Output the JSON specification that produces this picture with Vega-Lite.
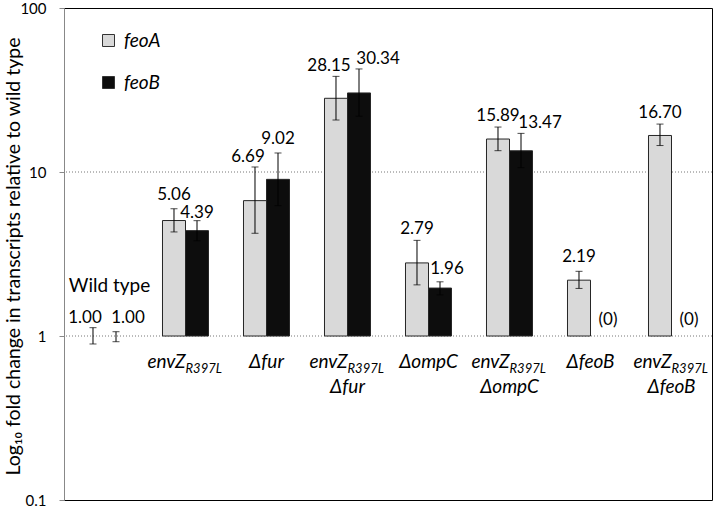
{
  "$schema": "https://vega.github.io/schema/vega-lite/v6.json",
  "width": 648,
  "height": 492,
  "autosize": "none",
  "padding": {"left": 64, "top": 8, "right": 2, "bottom": 7},
  "background": "white",
  "config": {
    "view": {"stroke": "#000", "strokeWidth": 1},
    "font": "Lato",
    "text": {"font": "Lato", "color": "#000"},
    "axisY": {
      "grid": false, "domainColor": "#888", "tickColor": "#888", "tickSize": 5,
      "labelFontSize": 15, "labelColor": "#000", "labelFont": "Lato", "labelPadding": 13,
      "titleFont": "Lato", "titleFontSize": 19.5, "titleFontWeight": "normal", "titleColor": "#000",
      "titleX": -41, "titleY": 248, "titleAngle": -90, "titleAlign": "center", "titleBaseline": "bottom"
    }
  },
  "datasets": {
    "bars": [
      {"group": "Wild type", "series": "feoA", "value": 1.0, "lo": 0.894, "hi": 1.124, "label": "1.00"},
      {"group": "Wild type", "series": "feoB", "value": 1.0, "lo": 0.923, "hi": 1.062, "label": "1.00"},
      {"group": "envZ R397L", "series": "feoA", "value": 5.06, "lo": 4.31, "hi": 5.97, "label": "5.06"},
      {"group": "envZ R397L", "series": "feoB", "value": 4.39, "lo": 3.81, "hi": 5.05, "label": "4.39"},
      {"group": "Δfur", "series": "feoA", "value": 6.69, "lo": 4.23, "hi": 10.73, "label": "6.69"},
      {"group": "Δfur", "series": "feoB", "value": 9.02, "lo": 6.23, "hi": 13.06, "label": "9.02"},
      {"group": "envZ R397L Δfur", "series": "feoA", "value": 28.15, "lo": 20.75, "hi": 38.3, "label": "28.15"},
      {"group": "envZ R397L Δfur", "series": "feoB", "value": 30.34, "lo": 21.9, "hi": 42.5, "label": "30.34"},
      {"group": "ΔompC", "series": "feoA", "value": 2.79, "lo": 2.05, "hi": 3.83, "label": "2.79"},
      {"group": "ΔompC", "series": "feoB", "value": 1.96, "lo": 1.78, "hi": 2.14, "label": "1.96"},
      {"group": "envZ R397L ΔompC", "series": "feoA", "value": 15.89, "lo": 13.49, "hi": 18.8, "label": "15.89"},
      {"group": "envZ R397L ΔompC", "series": "feoB", "value": 13.47, "lo": 10.63, "hi": 17.2, "label": "13.47"},
      {"group": "ΔfeoB", "series": "feoA", "value": 2.19, "lo": 1.95, "hi": 2.48, "label": "2.19"},
      {"group": "envZ R397L ΔfeoB", "series": "feoA", "value": 16.7, "lo": 14.5, "hi": 19.6, "label": "16.70"}
    ],
    "zeros": [
      {"group": "ΔfeoB", "series": "feoB", "label": "(0)"},
      {"group": "envZ R397L ΔfeoB", "series": "feoB", "label": "(0)"}
    ],
    "groups": [
      {"group": "Wild type", "line1": "", "sub": "", "line2": ""},
      {"group": "envZ R397L", "line1": "envZ", "sub": "R397L", "line2": ""},
      {"group": "Δfur", "line1": "Δfur", "sub": "", "line2": ""},
      {"group": "envZ R397L Δfur", "line1": "envZ", "sub": "R397L", "line2": "Δfur"},
      {"group": "ΔompC", "line1": "ΔompC", "sub": "", "line2": ""},
      {"group": "envZ R397L ΔompC", "line1": "envZ", "sub": "R397L", "line2": "ΔompC"},
      {"group": "ΔfeoB", "line1": "ΔfeoB", "sub": "", "line2": ""},
      {"group": "envZ R397L ΔfeoB", "line1": "envZ", "sub": "R397L", "line2": "ΔfeoB"}
    ],
    "grid": [{"g": 1}, {"g": 10}]
  },
  "layer": [
    {
      "data": {"name": "grid"},
      "mark": {"type": "rule", "color": "#777", "strokeDash": [1, 2], "strokeWidth": 1},
      "encoding": {
        "y": {"field": "g", "type": "quantitative", "scale": {"type": "log", "domain": [0.1, 100], "nice": false},
          "axis": {"values": [0.1, 1, 10, 100], "format": "~g", "title": "Log₁₀ fold change  in transcripts relative to wild type"}}
      }
    },
    {
      "data": {"name": "bars"},
      "transform": [{"filter": "datum.group !== 'Wild type'"}],
      "mark": {"type": "bar", "stroke": "#262626", "strokeWidth": 1},
      "encoding": {
        "x": {"field": "group", "type": "nominal", "sort": null, "axis": null,
          "scale": {"domain": ["Wild type", "envZ R397L", "Δfur", "envZ R397L Δfur", "ΔompC", "envZ R397L ΔompC", "ΔfeoB", "envZ R397L ΔfeoB"], "paddingInner": 0.432, "paddingOuter": 0.216}},
        "xOffset": {"field": "series", "type": "nominal", "scale": {"domain": ["feoA", "feoB"], "paddingInner": 0, "paddingOuter": 0}},
        "y": {"field": "value", "type": "quantitative"},
        "y2": {"datum": 1},
        "fill": {"field": "series", "type": "nominal",
          "scale": {"domain": ["feoA", "feoB"], "range": ["#d9d9d9", "#0d0d0d"]},
          "legend": {"orient": "none", "legendX": 35, "legendY": 23, "title": null,
            "symbolType": "square", "symbolSize": 144, "symbolStrokeColor": "#333", "symbolStrokeWidth": 1, "symbolOpacity": 1,
            "labelFont": "Lato", "labelFontSize": 19, "labelFontStyle": "italic", "labelColor": "#000", "labelOffset": 6, "rowPadding": 22}}
      }
    },
    {
      "data": {"name": "bars"},
      "mark": {"type": "rule", "color": "#000", "strokeWidth": 1},
      "encoding": {
        "x": {"field": "group", "type": "nominal", "axis": null},
        "xOffset": {"field": "series", "type": "nominal"},
        "y": {"field": "lo", "type": "quantitative"},
        "y2": {"field": "hi"}
      }
    },
    {
      "data": {"name": "bars"},
      "mark": {"type": "tick", "color": "#000", "thickness": 1, "size": 7},
      "encoding": {
        "x": {"field": "group", "type": "nominal", "axis": null},
        "xOffset": {"field": "series", "type": "nominal"},
        "y": {"field": "lo", "type": "quantitative"}
      }
    },
    {
      "data": {"name": "bars"},
      "mark": {"type": "tick", "color": "#000", "thickness": 1, "size": 7},
      "encoding": {
        "x": {"field": "group", "type": "nominal", "axis": null},
        "xOffset": {"field": "series", "type": "nominal"},
        "y": {"field": "hi", "type": "quantitative"}
      }
    },
    {
      "data": {"name": "bars"},
      "transform": [{"filter": "indexof(['2.79','15.89','16.70'], datum.label) >= 0"}],
      "mark": {"type": "text", "fontSize": 17, "baseline": "alphabetic", "dy": -6},
      "encoding": {
        "x": {"field": "group", "type": "nominal", "axis": null},
        "xOffset": {"field": "series", "type": "nominal"},
        "y": {"field": "hi", "type": "quantitative"},
        "text": {"field": "label"}
      }
    },
    {
      "data": {"name": "bars"},
      "transform": [{"filter": "indexof(['5.06','9.02','2.19'], datum.label) >= 0"}],
      "mark": {"type": "text", "fontSize": 17, "baseline": "alphabetic", "dy": -9},
      "encoding": {
        "x": {"field": "group", "type": "nominal", "axis": null},
        "xOffset": {"field": "series", "type": "nominal"},
        "y": {"field": "hi", "type": "quantitative"},
        "text": {"field": "label"}
      }
    },
    {
      "data": {"name": "bars"},
      "transform": [{"filter": "datum.label === '4.39'"}],
      "mark": {"type": "text", "fontSize": 17, "baseline": "alphabetic", "dy": -3},
      "encoding": {
        "x": {"field": "group", "type": "nominal", "axis": null},
        "xOffset": {"field": "series", "type": "nominal"},
        "y": {"field": "hi", "type": "quantitative"},
        "text": {"field": "label"}
      }
    },
    {
      "data": {"name": "bars"},
      "transform": [{"filter": "indexof(['6.69','28.15'], datum.label) >= 0"}],
      "mark": {"type": "text", "fontSize": 17, "baseline": "alphabetic", "dy": -5, "dx": -7},
      "encoding": {
        "x": {"field": "group", "type": "nominal", "axis": null},
        "xOffset": {"field": "series", "type": "nominal"},
        "y": {"field": "hi", "type": "quantitative"},
        "text": {"field": "label"}
      }
    },
    {
      "data": {"name": "bars"},
      "transform": [{"filter": "indexof(['30.34','13.47'], datum.label) >= 0"}],
      "mark": {"type": "text", "fontSize": 17, "baseline": "alphabetic", "dy": -5, "dx": 19},
      "encoding": {
        "x": {"field": "group", "type": "nominal", "axis": null},
        "xOffset": {"field": "series", "type": "nominal"},
        "y": {"field": "hi", "type": "quantitative"},
        "text": {"field": "label"}
      }
    },
    {
      "data": {"name": "bars"},
      "transform": [{"filter": "datum.label === '1.96'"}],
      "mark": {"type": "text", "fontSize": 17, "baseline": "alphabetic", "dy": -8, "dx": 7},
      "encoding": {
        "x": {"field": "group", "type": "nominal", "axis": null},
        "xOffset": {"field": "series", "type": "nominal"},
        "y": {"field": "hi", "type": "quantitative"},
        "text": {"field": "label"}
      }
    },
    {
      "data": {"name": "bars"},
      "transform": [{"filter": "datum.group === 'Wild type' && datum.series === 'feoA'"}],
      "mark": {"type": "text", "fontSize": 17, "baseline": "alphabetic", "dx": -8},
      "encoding": {
        "x": {"field": "group", "type": "nominal", "axis": null},
        "xOffset": {"field": "series", "type": "nominal"},
        "y": {"datum": 1.2, "type": "quantitative"},
        "text": {"field": "label"}
      }
    },
    {
      "data": {"name": "bars"},
      "transform": [{"filter": "datum.group === 'Wild type' && datum.series === 'feoB'"}],
      "mark": {"type": "text", "fontSize": 17, "baseline": "alphabetic", "dx": 12},
      "encoding": {
        "x": {"field": "group", "type": "nominal", "axis": null},
        "xOffset": {"field": "series", "type": "nominal"},
        "y": {"datum": 1.2, "type": "quantitative"},
        "text": {"field": "label"}
      }
    },
    {
      "data": {"name": "zeros"},
      "mark": {"type": "text", "fontSize": 17, "baseline": "alphabetic", "dx": 6},
      "encoding": {
        "x": {"field": "group", "type": "nominal", "axis": null},
        "xOffset": {"field": "series", "type": "nominal"},
        "y": {"datum": 1.17, "type": "quantitative"},
        "text": {"field": "label"}
      }
    },
    {
      "data": {"values": [{"group": "Wild type", "t": "Wild type"}]},
      "mark": {"type": "text", "fontSize": 19, "baseline": "alphabetic", "dx": 5},
      "encoding": {
        "x": {"field": "group", "type": "nominal", "axis": null},
        "y": {"datum": 1.855, "type": "quantitative"},
        "text": {"field": "t"}
      }
    },
    {
      "data": {"name": "groups"},
      "transform": [{"filter": "datum.sub === '' && datum.line1 !== ''"}],
      "mark": {"type": "text", "fontSize": 19, "fontStyle": "italic", "baseline": "alphabetic", "align": "center"},
      "encoding": {
        "x": {"field": "group", "type": "nominal", "axis": null},
        "y": {"datum": 0.64, "type": "quantitative"},
        "text": {"field": "line1"}
      }
    },
    {
      "data": {"name": "groups"},
      "transform": [{"filter": "datum.sub !== ''"}],
      "mark": {"type": "text", "fontSize": 19, "fontStyle": "italic", "baseline": "alphabetic", "align": "right"},
      "encoding": {
        "x": {"field": "group", "type": "nominal", "axis": null},
        "y": {"datum": 0.64, "type": "quantitative"},
        "text": {"field": "line1"}
      }
    },
    {
      "data": {"name": "groups"},
      "transform": [{"filter": "datum.sub !== ''"}],
      "mark": {"type": "text", "fontSize": 13, "fontStyle": "italic", "baseline": "alphabetic", "align": "left", "dy": 5},
      "encoding": {
        "x": {"field": "group", "type": "nominal", "axis": null},
        "y": {"datum": 0.64, "type": "quantitative"},
        "text": {"field": "sub"}
      }
    },
    {
      "data": {"name": "groups"},
      "transform": [{"filter": "datum.line2 !== ''"}],
      "mark": {"type": "text", "fontSize": 19, "fontStyle": "italic", "baseline": "alphabetic", "align": "center"},
      "encoding": {
        "x": {"field": "group", "type": "nominal", "axis": null},
        "y": {"datum": 0.449, "type": "quantitative"},
        "text": {"field": "line2"}
      }
    }
  ]
}
